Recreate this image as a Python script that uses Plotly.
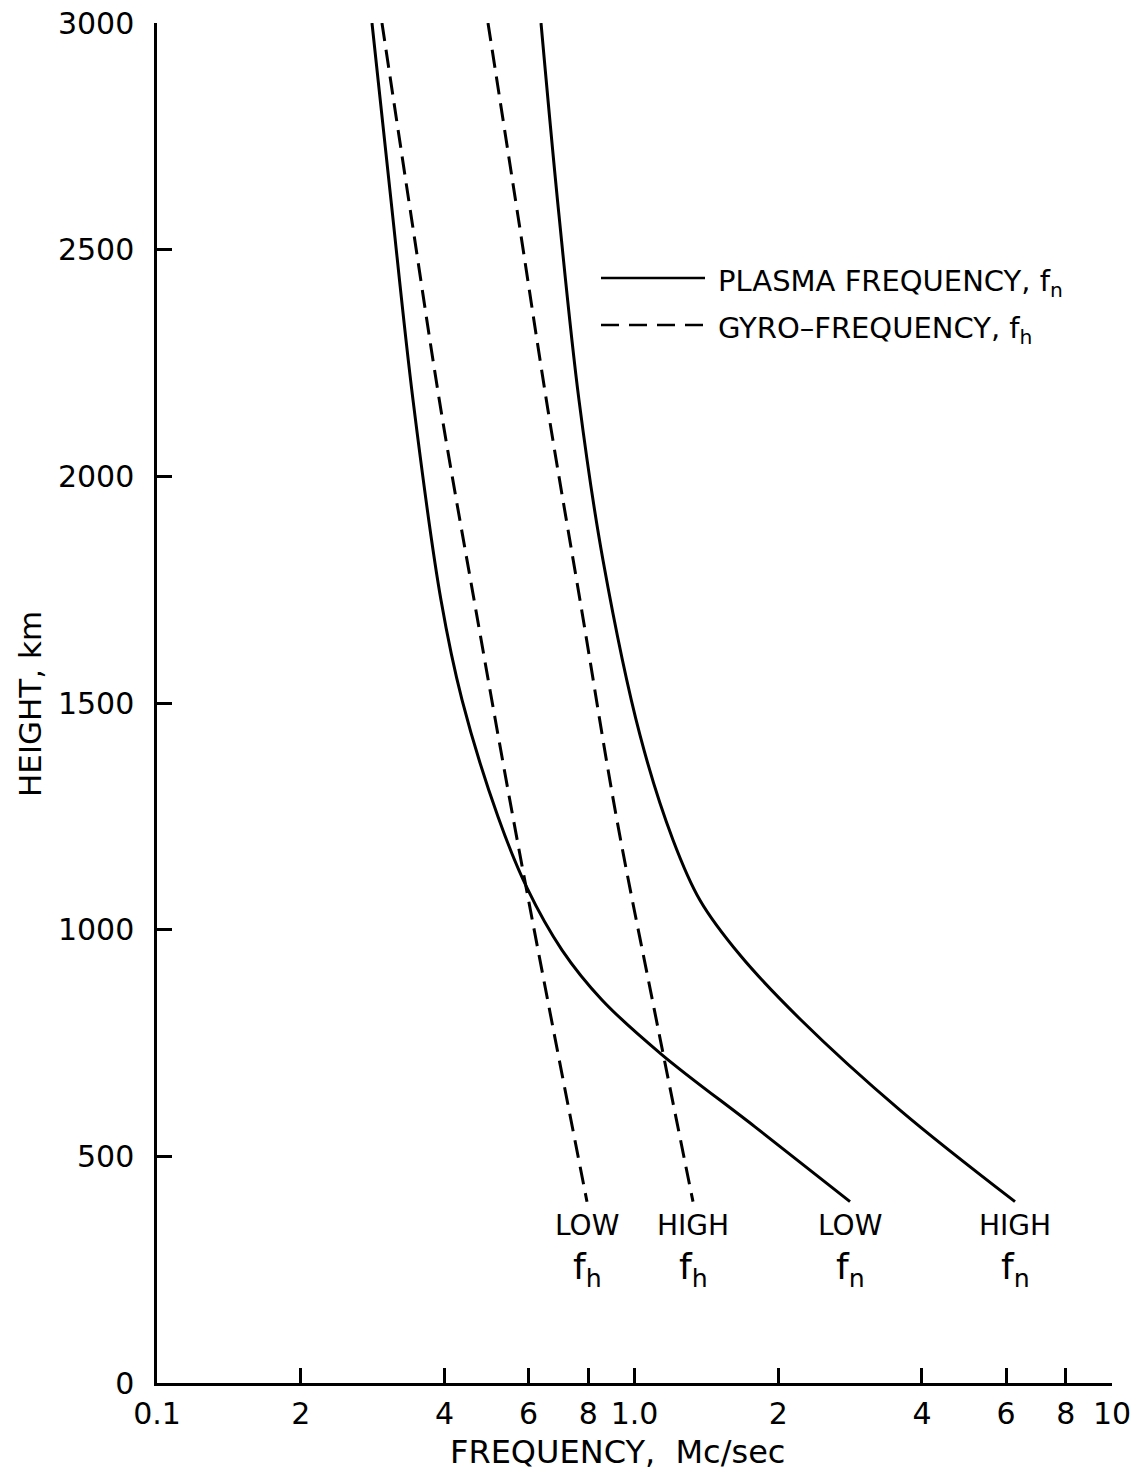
import math
import plotly.graph_objects as go

# Electron plasma frequency (f_n) and gyro-frequency (f_h) versus height,
# low and high bounding profiles. Heights in km, frequencies in Mc/sec.
low_fn_height = [3000, 2610, 2168, 1727, 1507, 1249, 1092, 955, 845, 724, 565, 400]
low_fn_freq = [0.282, 0.309, 0.3437, 0.3933, 0.4353, 0.5178, 0.5955, 0.705, 0.855, 1.142, 1.788, 2.827]

high_fn_height = [3000, 2576, 2168, 1815, 1429, 1198, 1065, 944, 803, 602, 400]
high_fn_freq = [0.6371, 0.6948, 0.7652, 0.8591, 1.0269, 1.204, 1.3714, 1.6632, 2.2213, 3.5977, 6.264]

low_fh_height = [3000, 2576, 2146, 1716, 1260, 818, 400]
low_fh_freq = [0.2959, 0.3404, 0.3933, 0.4634, 0.5539, 0.6653, 0.7953]

high_fh_height = [3000, 2574, 2146, 1701, 1253, 827, 400]
high_fh_freq = [0.4934, 0.5702, 0.6589, 0.7763, 0.9147, 1.0986, 1.3259]

# Axis ticks
x_tickvals = [0.1, 0.2, 0.4, 0.6, 0.8, 1.0, 2, 4, 6, 8, 10]
x_ticktext = ["0.1", "2", "4", "6", "8", "1.0", "2", "4", "6", "8", "10"]
y_tickvals = [0, 500, 1000, 1500, 2000, 2500, 3000]

# End-of-curve labels
curve_labels = [
    ("LOW", "f<sub>h</sub>", low_fh_freq, low_fh_height),
    ("HIGH", "f<sub>h</sub>", high_fh_freq, high_fh_height),
    ("LOW", "f<sub>n</sub>", low_fn_freq, low_fn_height),
    ("HIGH", "f<sub>n</sub>", high_fn_freq, high_fn_height),
]

FONT = "DejaVu Sans"
INK = "black"
W, H = 1140, 1472
ML, MR, MT, MB = 157, 28, 23, 89
PW, PH = W - ML - MR, H - MT - MB


def px_to_paper(px, py):
    return (px - ML) / PW, (H - MB - py) / PH


fig = go.Figure()

solid = dict(color=INK, width=3)
dashed = dict(color=INK, width=3, dash="18px,9px")

for xs, ys, ln in [
    (low_fn_freq, low_fn_height, solid),
    (high_fn_freq, high_fn_height, solid),
    (low_fh_freq, low_fh_height, dashed),
    (high_fh_freq, high_fh_height, dashed),
]:
    fig.add_trace(go.Scatter(x=xs, y=ys, mode="lines",
                             line=dict(shape="spline", smoothing=1.0, **ln),
                             showlegend=False, hoverinfo="skip"))

annotations = []
for top, bottom, fx, hy in curve_labels:
    xe = math.log10(fx[-1])
    annotations.append(dict(x=xe, y=hy[-1], xref="x", yref="y", text=top,
                            showarrow=False, yshift=-24, yanchor="middle",
                            font=dict(family=FONT, size=28, color=INK)))
    annotations.append(dict(x=xe, y=hy[-1], xref="x", yref="y", text=bottom,
                            showarrow=False, yshift=-68, yanchor="middle",
                            font=dict(family=FONT, size=36, color=INK)))

# Legend key drawn as line samples with text
shapes = []
lx0, ly1 = px_to_paper(601, 278)
lx1, _ = px_to_paper(705, 278)
_, ly2 = px_to_paper(601, 325)
shapes.append(dict(type="line", xref="paper", yref="paper", x0=lx0, x1=lx1,
                   y0=ly1, y1=ly1, line=dict(color=INK, width=2.5)))
shapes.append(dict(type="line", xref="paper", yref="paper", x0=lx0, x1=lx1,
                   y0=ly2, y1=ly2, line=dict(color=INK, width=2.5, dash="18px,10px")))
tx, _ = px_to_paper(716, 0)
_, ty1 = px_to_paper(0, 283)
_, ty2 = px_to_paper(0, 330)
annotations.append(dict(x=tx, y=ty1, xref="paper", yref="paper", xanchor="left",
                        yanchor="middle", showarrow=False,
                        text="PLASMA FREQUENCY, f<sub>n</sub>",
                        font=dict(family=FONT, size=29, color=INK)))
annotations.append(dict(x=tx, y=ty2, xref="paper", yref="paper", xanchor="left",
                        yanchor="middle", showarrow=False,
                        text="GYRO\u2013FREQUENCY, f<sub>h</sub>",
                        font=dict(family=FONT, size=29, color=INK)))

# Axis titles
ax, ay = px_to_paper(617, 1452)
annotations.append(dict(x=ax, y=ay, xref="paper", yref="paper", showarrow=False,
                        text="FREQUENCY,  Mc/sec", xanchor="center", yanchor="middle",
                        font=dict(family=FONT, size=32, color=INK)))
bx, by = px_to_paper(30, 704)
annotations.append(dict(x=bx, y=by, xref="paper", yref="paper", showarrow=False,
                        text="HEIGHT, km", textangle=-90, xanchor="center",
                        yanchor="middle", font=dict(family=FONT, size=31, color=INK)))

axis_common = dict(showline=True, linecolor=INK, linewidth=2.5, ticks="inside",
                   ticklen=15, tickwidth=2.5, tickcolor=INK, showgrid=False,
                   zeroline=False, mirror=False, automargin=False,
                   tickfont=dict(family=FONT, size=30, color=INK))

fig.update_layout(
    width=W, height=H,
    margin=dict(l=ML, r=MR, t=MT, b=MB, autoexpand=False),
    paper_bgcolor="white", plot_bgcolor="white",
    xaxis=dict(type="log", range=[-1, 1], tickvals=x_tickvals, ticktext=x_ticktext,
               ticklabelstandoff=2, **axis_common),
    yaxis=dict(range=[0, 3000], tickvals=y_tickvals, ticklabelstandoff=14,
               **axis_common),
    shapes=shapes,
    annotations=annotations,
    showlegend=False,
)

fig.write_html("out.html")
